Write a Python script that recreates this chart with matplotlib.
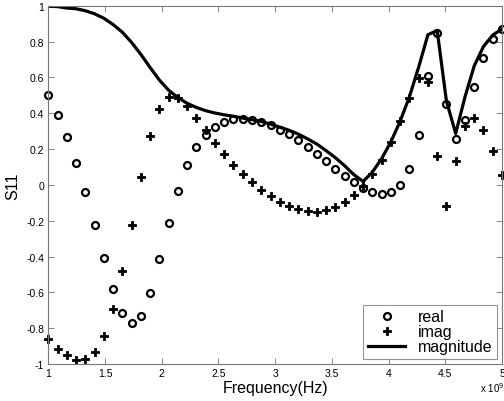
import matplotlib
import matplotlib.pyplot as plt
import numpy as np
from matplotlib.ticker import FixedLocator, FuncFormatter

matplotlib.use('Agg')

plt.rcParams['font.family'] = ['Liberation Sans', 'DejaVu Sans']
plt.rcParams['axes.unicode_minus'] = False

# frequency sweep, 50 points from 1 to 5 GHz (axis shown in units of 1e9 Hz)
freq = np.linspace(1, 5, 50)

s11_real = [0.50, 0.39, 0.265, 0.12, -0.04, -0.224, -0.41, -0.58, -0.713, -0.773,
            -0.734, -0.605, -0.416, -0.211, -0.033, 0.111, 0.211, 0.277, 0.325, 0.351,
            0.366, 0.368, 0.364, 0.353, 0.334, 0.308, 0.282, 0.249, 0.211, 0.172,
            0.131, 0.09, 0.051, 0.016, -0.018, -0.038, -0.049, -0.04, -0.003, 0.088,
            0.278, 0.609, 0.846, 0.453, 0.254, 0.364, 0.548, 0.708, 0.814, 0.868]

s11_imag = [-0.861, -0.915, -0.95, -0.978, -0.974, -0.933, -0.842, -0.693, -0.483, -0.222,
            0.042, 0.274, 0.425, 0.489, 0.485, 0.438, 0.375, 0.306, 0.235, 0.172,
            0.112, 0.062, 0.015, -0.027, -0.06, -0.094, -0.116, -0.135, -0.146, -0.15,
            -0.139, -0.122, -0.094, -0.055, -0.005, 0.06, 0.137, 0.237, 0.355, 0.483,
            0.595, 0.576, 0.163, -0.116, 0.133, 0.328, 0.375, 0.308, 0.19, 0.057]

s11_mag = [0.997, 0.995, 0.987, 0.983, 0.972, 0.955, 0.930, 0.895, 0.852, 0.795,
           0.728, 0.655, 0.585, 0.528, 0.487, 0.455, 0.432, 0.414, 0.401, 0.391,
           0.383, 0.373, 0.364, 0.354, 0.339, 0.322, 0.305, 0.283, 0.257, 0.228,
           0.191, 0.152, 0.107, 0.057, 0.019, 0.071, 0.146, 0.240, 0.355, 0.491,
           0.657, 0.838, 0.862, 0.468, 0.287, 0.490, 0.664, 0.772, 0.836, 0.870]

x_ticks = [1, 1.5, 2, 2.5, 3, 3.5, 4, 4.5, 5]
y_ticks = [-1, -0.8, -0.6, -0.4, -0.2, 0, 0.2, 0.4, 0.6, 0.8, 1]

fig = plt.figure(figsize=(5.04, 4.02), dpi=100)
ax = fig.add_axes([0.0958, 0.092, 0.9002, 0.8913])

ax.plot(freq, s11_real, 'o', color='black', markerfacecolor='none',
        markersize=5, markeredgewidth=1.6, label='real', clip_on=False)
ax.plot(freq, s11_imag, 'P', color='black', markersize=6,
        markeredgewidth=0.6, label='imag', clip_on=False)
ax.plot(freq, s11_mag, '-', color='black', linewidth=2.3, label='magnitude')

ax.set_xlim(1, 5)
ax.set_ylim(-1, 1)
ax.xaxis.set_major_locator(FixedLocator(x_ticks))
ax.yaxis.set_major_locator(FixedLocator(y_ticks))
fmt = FuncFormatter(lambda v, p: f'{v:g}')
ax.xaxis.set_major_formatter(fmt)
ax.yaxis.set_major_formatter(fmt)
ax.tick_params(direction='in', length=4, width=0.6, color='#777777',
               labelsize=7.5, top=True, right=True, pad=3)
for s in ax.spines.values():
    s.set_color('#777777')
    s.set_linewidth(0.8)

ax.set_xlabel('Frequency(Hz)', fontsize=11.5, labelpad=1)
ax.set_ylabel('S11', fontsize=11.5, labelpad=4)
fig.text(0.953, 0.018, r'x 10$^{9}$', fontsize=7, ha='left', va='bottom')

leg = ax.legend(loc='lower right', fontsize=11.5, frameon=True, fancybox=False,
                borderaxespad=0.3, handlelength=2.3, handletextpad=0.8,
                labelspacing=0.0, borderpad=0.3)
leg.get_frame().set_edgecolor('#777777')
leg.get_frame().set_linewidth(0.8)

fig.savefig('out.png', dpi=100)
